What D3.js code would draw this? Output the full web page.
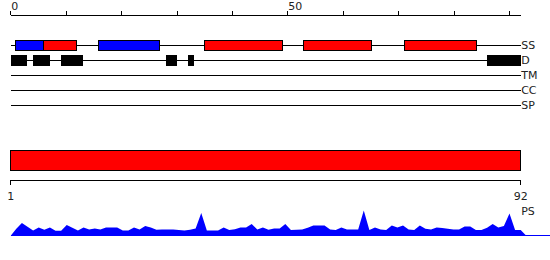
<!DOCTYPE html>
<html>
<head>
<meta charset="utf-8">
<script src="https://cdn.jsdelivr.net/npm/d3@7"></script>
<style>
  body { margin: 0; background: #fff; }
  text { font-family: "DejaVu Sans", sans-serif; font-size: 11px; fill: #222; }
  line, rect, .axis { shape-rendering: crispEdges; }
</style>
</head>
<body>
<div id="chart"></div>
<script>
// top ruler
const rulerTicks = [0, 10, 20, 30, 40, 50, 60, 70, 80, 90];
const rulerLabels = [0, 50];

// feature tracks
const trackNames = ["SS", "D", "TM", "CC", "SP"];
const ssStart = [0.8, 6, 15.8, 35, 52.9, 71];
const ssEnd = [6, 11.9, 26.9, 49, 65.1, 84];
const ssType = ["E", "H", "E", "H", "H", "H"];
const disStart = [0, 4, 9, 28, 32, 86];
const disEnd = [3, 7, 13, 30, 33, 92];

// sequence range and PS profile
const seqRange = [1, 92];
const psScores = [0, 7, 12.7, 9, 5.3, 8.3, 6, 8.3, 5, 5,
  10.7, 8, 5.3, 8.3, 6.3, 7.3, 6.3, 8.3, 8.3, 8.3,
  5.3, 5.3, 8.3, 6.3, 9.7, 8.3, 6, 6.3, 6.3, 6.3,
  5.7, 5.3, 6, 7.3, 22.7, 5.3, 5.3, 5.3, 8.3, 5.7,
  6.5, 8.3, 8.3, 11.7, 6.3, 8.3, 6, 7.3, 7.3, 11.7,
  5.7, 6, 6.3, 8, 10.3, 10.3, 10.3, 6.3, 5.7, 8.3,
  6.3, 6.3, 6.3, 25.3, 5.7, 8.3, 6.3, 5.7, 10.3, 8.3,
  10.3, 6.3, 5.7, 10.3, 7, 6.3, 8.3, 7.7, 7, 6.3,
  6.3, 9.3, 9.3, 5.7, 5.7, 8, 11.7, 8.3, 9.7, 22.3,
  5.7, 5.7, 0];

const width = 550, height = 260;
const left = 10.7, right = 520.7;

const svg = d3.select("#chart").append("svg")
  .attr("width", width)
  .attr("height", height);

const x = d3.scaleLinear().domain([0, 92]).range([left, right]);
const xs = d3.scaleLinear().domain(seqRange).range([left, right]);

const colors = { H: "#ff0000", E: "#0000ff" };

// ruler
const ruler = svg.append("g").attr("transform", "translate(0,15)");
ruler.append("line")
  .attr("x1", left).attr("x2", right)
  .attr("stroke", "#000");
ruler.selectAll("line.tick")
  .data(rulerTicks)
  .enter().append("line")
  .attr("class", "tick")
  .attr("x1", d => x(d)).attr("x2", d => x(d))
  .attr("y1", -4).attr("y2", 0)
  .attr("stroke", "#000");
ruler.selectAll("text")
  .data(rulerLabels)
  .enter().append("text")
  .attr("x", d => x(d) + 0.5)
  .attr("y", -5)
  .text(d => d);

// tracks
const trackY = d3.scalePoint().domain(trackNames).range([45, 105]);

svg.selectAll("line.track")
  .data(trackNames)
  .enter().append("line")
  .attr("class", "track")
  .attr("x1", left).attr("x2", right)
  .attr("y1", d => trackY(d)).attr("y2", d => trackY(d))
  .attr("stroke", "#000");

svg.selectAll("text.track")
  .data(trackNames)
  .enter().append("text")
  .attr("class", "track")
  .attr("x", right + 0.5)
  .attr("y", d => trackY(d))
  .attr("dy", "0.36em")
  .text(d => d);

const ss = ssStart.map((s, i) => ({ start: s, end: ssEnd[i], type: ssType[i] }));
svg.selectAll("rect.ss")
  .data(ss)
  .enter().append("rect")
  .attr("class", "ss")
  .attr("x", d => x(d.start))
  .attr("width", d => x(d.end) - x(d.start))
  .attr("y", trackY("SS") - 5)
  .attr("height", 10)
  .attr("fill", d => colors[d.type])
  .attr("stroke", "#000");

const dis = disStart.map((s, i) => ({ start: s, end: disEnd[i] }));
svg.selectAll("rect.dis")
  .data(dis)
  .enter().append("rect")
  .attr("class", "dis")
  .attr("x", d => x(d.start))
  .attr("width", d => x(d.end) - x(d.start))
  .attr("y", trackY("D") - 5.5)
  .attr("height", 11)
  .attr("fill", "#000");

// sequence bar
svg.append("rect")
  .attr("x", xs(seqRange[0]))
  .attr("width", xs(seqRange[1]) - xs(seqRange[0]))
  .attr("y", 150.7)
  .attr("height", 19.6)
  .attr("fill", "#ff0000")
  .attr("stroke", "#000");

const axisB = svg.append("g").attr("transform", "translate(0,180.5)");
axisB.append("path")
  .attr("class", "axis")
  .attr("d", `M${left},4V0H${right}V4`)
  .attr("fill", "none")
  .attr("stroke", "#000");
axisB.selectAll("text")
  .data(seqRange)
  .enter().append("text")
  .attr("x", d => xs(d))
  .attr("y", 19.5)
  .attr("text-anchor", "middle")
  .text(d => d);

// PS area
const baseY = 235.7;
const y = d3.scaleLinear().domain([0, 30]).range([baseY, baseY - 30]);

svg.append("line")
  .attr("x1", left).attr("x2", width)
  .attr("y1", baseY).attr("y2", baseY)
  .attr("stroke", "#0000ff")
  .attr("stroke-width", 1.5);

const area = d3.area()
  .x((d, i) => xs(i + 1))
  .y0(baseY)
  .y1(d => y(d));

svg.append("path")
  .datum(psScores)
  .attr("d", area)
  .attr("fill", "#0000ff");

svg.append("text")
  .attr("x", right + 0.5)
  .attr("y", 215)
  .text("PS");
</script>
</body>
</html>
